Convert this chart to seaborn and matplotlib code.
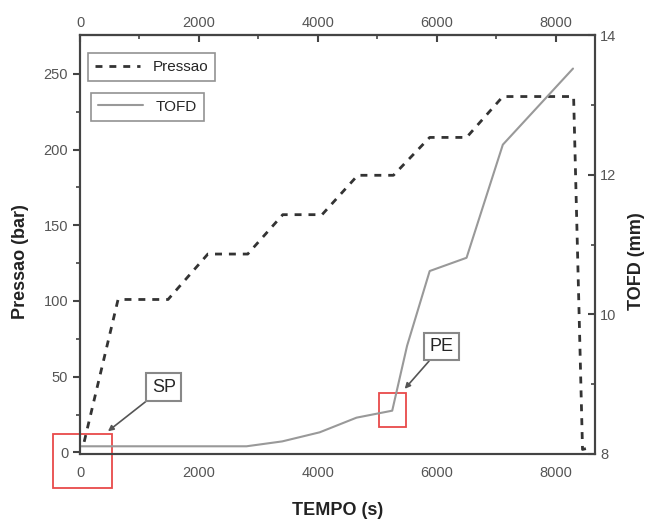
import numpy as np
import pandas as pd
import matplotlib.pyplot as plt
import matplotlib.patches as mpatches
import seaborn as sns

# Pressure curve (bar) vs time (s)
tempo_p = [70, 640, 1480, 2150, 2820, 3410, 4070, 4670, 5270, 5880, 6500, 7110, 8300, 8450, 8560]
pressao = [7, 101, 101, 131, 131, 157, 157, 183, 183, 208, 208, 235, 235, 2, 3]

# TOFD curve (mm) vs time (s)
tempo_t = [0, 2800, 3400, 4030, 4650, 5250, 5500, 5880, 6500, 7110, 8290]
tofd = [8.11, 8.11, 8.18, 8.31, 8.52, 8.62, 9.55, 10.62, 10.81, 12.43, 13.52]

df_p = pd.DataFrame({'tempo': tempo_p, 'pressao': pressao})
df_t = pd.DataFrame({'tempo': tempo_t, 'tofd': tofd})

sns.set_style('white')
plt.rcParams['font.family'] = ['Liberation Sans', 'DejaVu Sans']

fig = plt.figure(figsize=(6.51, 5.23), dpi=100)
ax = fig.add_axes([0.1229, 0.132, 0.7911, 0.801])
ax2 = ax.twinx()

sns.lineplot(data=df_p, x='tempo', y='pressao', ax=ax, color='#333333',
             linewidth=2.0, linestyle=(0, (2.5, 2.5)), sort=False, label='Pressao')
sns.lineplot(data=df_t, x='tempo', y='tofd', ax=ax2, color='#999999',
             linewidth=1.5, sort=False, label='TOFD')

ax.set_xlim(0, 8660)
ax.set_ylim(-1, 275.6)
ax2.set_ylim(8, 14)

ax.set_xticks([0, 2000, 4000, 6000, 8000])
ax.set_xticks([1000, 3000, 5000, 7000], minor=True)
ax.set_yticks([0, 50, 100, 150, 200, 250])
ax.set_yticks([25, 75, 125, 175, 225], minor=True)
ax2.set_yticks([8, 10, 12, 14])
ax2.set_yticks([9, 11, 13], minor=True)

tick_col = '#555555'
ax.tick_params(axis='both', which='major', direction='out', length=5, width=1.5,
               color='#444444', labelcolor=tick_col, labelsize=10.5)
ax.tick_params(axis='both', which='minor', direction='out', length=3, width=1.2,
               color='#444444')
ax2.tick_params(axis='y', which='major', direction='in', length=5, width=1.5,
                color='#444444', labelcolor=tick_col, labelsize=10.5)
ax2.tick_params(axis='y', which='minor', direction='in', length=3, width=1.2,
                color='#444444')

# top axis with inward ticks
top = ax.secondary_xaxis('top')
top.set_xticks([0, 2000, 4000, 6000, 8000])
top.set_xticks([1000, 3000, 5000, 7000], minor=True)
top.tick_params(which='major', direction='in', length=5, width=1.5,
                color='#444444', labelcolor=tick_col, labelsize=10.5)
top.tick_params(which='minor', direction='in', length=3, width=1.2, color='#444444')

for a in (ax, ax2):
    for s in a.spines.values():
        s.set_color('#444444')
        s.set_linewidth(1.5)
top.spines['top'].set_color('#444444')
top.spines['top'].set_linewidth(1.5)

ax.set_xlabel('TEMPO (s)', fontsize=13, fontweight='bold', color='#222222')
ax.set_ylabel('Pressao (bar)', fontsize=13, fontweight='bold', color='#222222')
ax2.set_ylabel('TOFD (mm)', fontsize=13, fontweight='bold', color='#222222')
ax.yaxis.set_label_coords(-0.1, 0.46)
ax2.yaxis.set_label_coords(1.065, 0.46)
ax.xaxis.set_label_coords(0.5, -0.115)

# two separate legend boxes
leg1 = ax.legend(loc='upper left', bbox_to_anchor=(0.0, 0.975), fontsize=11,
                 frameon=True, fancybox=False, edgecolor='#777777',
                 handlelength=3, borderpad=0.45)
leg1.get_frame().set_linewidth(1.2)
leg2 = ax2.legend(loc='upper left', bbox_to_anchor=(0.006, 0.88), fontsize=11,
                  frameon=True, fancybox=False, edgecolor='#777777',
                  handlelength=3, borderpad=0.45)
leg2.get_frame().set_linewidth(1.2)

# annotations
box = dict(boxstyle='square,pad=0.3', fc='white', ec='#888888', lw=1.5)
arrow = dict(arrowstyle='-|>', color='#555555', lw=1.2, shrinkA=0, shrinkB=0,
             mutation_scale=8)
ax.annotate('SP', xy=(470, 14), xytext=(1410, 43), fontsize=13, ha='center',
            va='center', bbox=box, arrowprops=arrow, zorder=5)
ax.annotate('PE', xy=(5460, 42), xytext=(6085, 70), fontsize=13, ha='center',
            va='center', bbox=box, arrowprops=arrow, zorder=5)

ax.add_patch(mpatches.Rectangle((-455, -23.7), 995, 36.2, fill=False,
                                ec='#e84a4a', lw=1.3, clip_on=False, zorder=6))
ax.add_patch(mpatches.Rectangle((5025, 17.1), 455, 22.4, fill=False,
                                ec='#e84a4a', lw=1.3, clip_on=False, zorder=6))

fig.savefig('out.png', dpi=100)
